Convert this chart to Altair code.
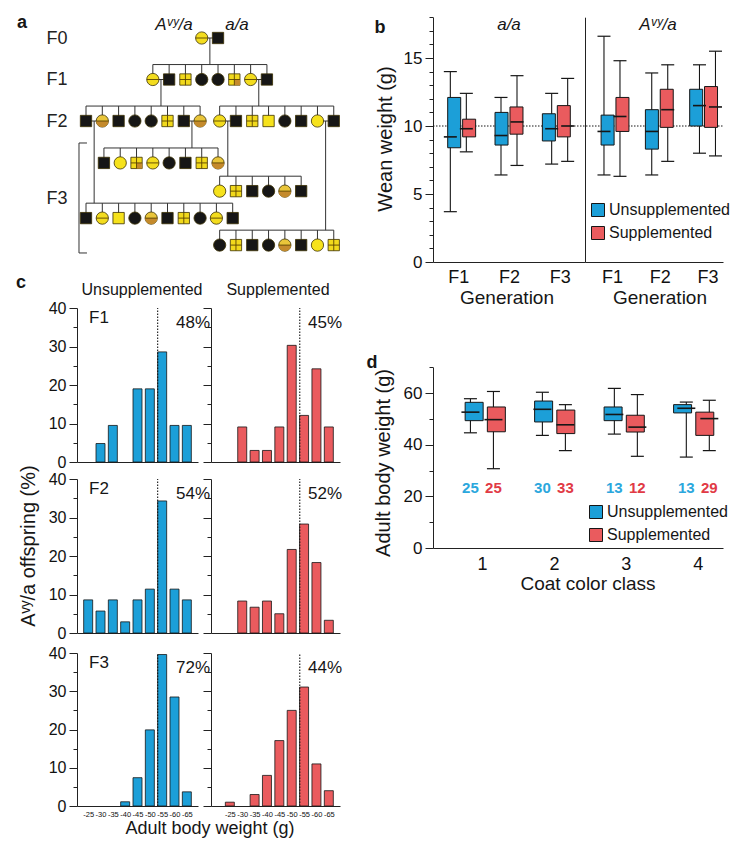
import json
import altair as alt
import pandas as pd

FONT = "Liberation Sans"
W, H = 725, 831

# ---------------- panel a : pedigree ----------------
# sibship: name, row, first slot, sexes, coat classes, parents (sibship, i, j)
SIBSHIPS = [
    ("F0", 0.00, 7.1, "FM", ["YL", "K"], None),
    ("F1", 1.00, 4.1, "FMMFFMFM", ["YL", "K", "YX", "K", "K", "YP", "YL", "K"], ("F0", 0, 1)),
    ("F2a", 2.00, 0.0, "MFMFFMMF", ["K", "HB", "K", "K", "K", "YX", "K", "HB"], ("F1", 0, 1)),
    ("F2b", 2.00, 8.2, "FMMMFMFM", ["YL", "K", "YX", "Y", "K", "K", "Y", "K"], ("F1", 6, 7)),
    ("F3a", 3.01, 1.1, "MFMFFMMF", ["K", "Y", "YP", "YL", "K", "K", "YX", "HB"], ("F2a", 6, 7)),
    ("F3b", 3.69, 8.2, "FMMFFM", ["Y", "YX", "K", "K", "HB", "K"], ("F2b", 0, 1)),
    ("F3c", 4.34, 0.0, "MFMFFMMFFM", ["K", "YL", "Y", "K", "HB", "K", "YX", "K", "YL", "K"], ("F2a", 0, 1)),
    ("F3d", 4.99, 8.2, "FMMFFMFM", ["K", "YX", "K", "K", "HB", "K", "Y", "YX"], ("F2b", 6, 7)),
]
BRACKET = {"x": -0.43, "x2": 0.06, "top": 2.53, "bottom": 5.18}
GEN_LABELS = ["F0", "F1", "F2", "F3"]
GEN_ROWS = [0, 1, 2, 3.86]
COATS = ["Y", "YL", "YX", "YP", "HB", "K"]
COAT_COLORS = ["#f6e21c", "#f3dc1e", "#f1d91c", "#f1d91c", "#e9c53a", "#161616"]

# ---------------- panel b : wean weight ----------------
TREAT = ["Unsupplemented", "Supplemented"]
GENS = ["F1", "F2", "F3"]
B_AA = dict(lo=[3.7, 8.1, 6.4, 7.1, 7.2, 7.4], q1=[8.4, 9.2, 8.6, 9.4, 8.9, 9.2],
            med=[9.2, 9.8, 9.3, 10.3, 9.8, 10.0], q3=[12.1, 10.5, 11.0, 11.4, 10.9, 11.5],
            hi=[14.0, 12.4, 12.1, 13.7, 12.4, 13.5])
B_AVY = dict(lo=[6.4, 6.3, 6.4, 7.4, 8.0, 7.8], q1=[8.6, 9.6, 8.3, 9.9, 10.0, 9.9],
             med=[9.6, 10.7, 9.6, 11.2, 11.5, 11.4], q3=[10.8, 12.1, 11.2, 12.7, 12.7, 12.9],
             hi=[16.6, 14.8, 13.9, 14.5, 14.5, 15.5])
B_REF = 10

# ---------------- panel c : histograms ----------------
BINS = ["-25", "-30", "-35", "-40", "-45", "-50", "-55", "-60", "-65"]
C_UNSUP = [
    [0, 4.8, 9.5, 0, 19.0, 19.0, 28.6, 9.5, 9.5],
    [8.6, 5.7, 8.6, 2.9, 8.6, 11.4, 34.3, 11.4, 8.6],
    [0, 0, 0, 1.1, 7.4, 19.9, 39.6, 28.5, 3.7],
]
C_SUP = [
    [0, 9.1, 3.0, 3.0, 9.1, 30.3, 12.1, 24.2, 9.1],
    [0, 8.3, 6.7, 8.3, 5.0, 21.7, 28.3, 18.3, 3.3],
    [1.0, 0, 3.0, 8.0, 17.1, 25.0, 31.1, 11.0, 4.0],
]
C_PCT_UNSUP = ["48%", "54%", "72%"]
C_PCT_SUP = ["45%", "52%", "44%"]
C_THRESH = 50

# ---------------- panel d : adult weight by coat class ----------------
CLASSES = [1, 2, 3, 4]
D_UNSUP = dict(lo=[44.6, 43.6, 44.1, 35.2], q1=[49.3, 48.8, 49.3, 52.3], med=[52.6, 53.7, 51.7, 54.1],
               q3=[56.4, 56.9, 54.6, 55.5], hi=[57.8, 60.3, 61.8, 56.5])
D_SUP = dict(lo=[30.7, 37.7, 35.5, 37.7], q1=[45.0, 44.3, 44.9, 43.6], med=[49.7, 47.7, 46.8, 50.1],
             q3=[54.6, 53.4, 51.4, 52.6], hi=[60.6, 55.5, 59.4, 57.2])
D_N_UNSUP = [25, 30, 13, 13]
D_N_SUP = [25, 33, 12, 29]

BLUE, RED = "#1c9fd8", "#ea5b5e"
BLUE_TXT, RED_TXT = "#2ba7dd", "#e13a45"
INK = "#161616"


def txt(s, x, y, size=16, **kw):
    kw.setdefault("color", INK)
    return alt.Chart(pd.DataFrame({"t": [s]})).mark_text(fontSize=size, font=FONT, **kw).encode(
        x=alt.value(x), y=alt.value(y), text="t:N")


def cond_tick(step, major, minor):
    return {"condition": {"test": f"datum.value % {step} === 0", "value": major}, "value": minor}


def show_every(step):
    return f"datum.value % {step} === 0 ? datum.label : ''"


def sc(domain, rng):
    return alt.Scale(domain=domain, range=rng, nice=False, zero=False)


def px_per_unit(s):
    return (s.range[1] - s.range[0]) / (s.domain[1] - s.domain[0])


# ---------- pedigree ----------
pos = {}
inds = []
for name, row, start, sexes, coats, parents in SIBSHIPS:
    for i, (s, c) in enumerate(zip(sexes, coats)):
        pos[(name, i)] = (start + i, row)
        inds.append({"x": start + i, "row": row, "sex": s, "coat": c})
ind = pd.DataFrame(inds)
segs = []
for name, row, start, sexes, coats, parents in SIBSHIPS:
    if parents is None:
        continue
    pn, i, j = parents
    (xa, ra), (xb, _) = pos[(pn, i)], pos[(pn, j)]
    mid = (xa + xb) / 2
    sib = row - 0.36
    kids = [start + k for k in range(len(sexes))]
    segs.append(dict(x=xa, x2=xb, y=ra, y2=ra))
    segs.append(dict(x=mid, x2=mid, y=ra, y2=sib))
    segs.append(dict(x=min(kids + [mid]), x2=max(kids + [mid]), y=sib, y2=sib))
    for xk in kids:
        segs.append(dict(x=xk, x2=xk, y=sib, y2=row))
segs.append(dict(x=BRACKET["x"], x2=BRACKET["x"], y=BRACKET["top"], y2=BRACKET["bottom"]))
segs.append(dict(x=BRACKET["x"], x2=BRACKET["x2"], y=BRACKET["top"], y2=BRACKET["top"]))
segs.append(dict(x=BRACKET["x"], x2=BRACKET["x2"], y=BRACKET["bottom"], y2=BRACKET["bottom"]))
seg = pd.DataFrame(segs)

XA = sc([0, 15], [78, 322.5])
YA = sc([0, 5], [30, 237.5])
gen_label_expr = f"{json.dumps(GEN_LABELS)}[indexof({json.dumps(GEN_ROWS)}, datum.value)]"
ped_yaxis = alt.Axis(orient="left", offset=-59, values=GEN_ROWS, labelExpr=gen_label_expr, domain=False,
                     ticks=False, labelFontSize=18, labelPadding=0, title=None, labelColor="#222")
SIZE = alt.Size("sex:N", scale=alt.Scale(domain=["F", "M"], range=[150, 128]), legend=None)
PX = alt.X("x:Q", scale=XA, axis=None)
PY = alt.Y("row:Q", scale=YA, axis=None)

ped_lines = alt.Chart(seg).mark_rule(color="#333", strokeWidth=1).encode(
    x=alt.X("x:Q", scale=XA, axis=None), x2="x2:Q",
    y=alt.Y("y:Q", scale=YA, axis=ped_yaxis), y2="y2:Q")
ped_base = alt.Chart(ind).mark_point(filled=True, opacity=1, stroke="#3b3000", strokeWidth=0.8).encode(
    x=PX, y=PY, size=SIZE,
    shape=alt.Shape("sex:N", scale=alt.Scale(domain=["F", "M"], range=["circle", "square"]), legend=None),
    fill=alt.Fill("coat:N", scale=alt.Scale(domain=COATS, range=COAT_COLORS), legend=None))
HALF = "M-1,0A1,1,0,0,0,1,0Z"
QUAD = "M0,0H1V1H0Z"
ped_half = alt.Chart(ind[ind.coat == "HB"]).mark_point(
    shape=HALF, filled=True, opacity=1, fill="#c48a2c", strokeWidth=0).encode(x=PX, y=PY, size=SIZE)
ped_quad = alt.Chart(ind[ind.coat == "YP"]).mark_point(
    shape=QUAD, filled=True, opacity=1, fill="#c48a2c", strokeWidth=0).encode(x=PX, y=PY, size=SIZE)
ped_line = alt.Chart(ind[ind.coat.isin(["YL", "HB"])]).mark_point(
    shape="M-1,0H1", filled=False, opacity=1, stroke="#5a4300", strokeWidth=0.9).encode(x=PX, y=PY, size=SIZE)
ped_cross = alt.Chart(ind[ind.coat.isin(["YX", "YP"])]).mark_point(
    shape="M-1,0H1M0,-1V1", filled=False, opacity=1, stroke="#5a4300", strokeWidth=0.9).encode(x=PX, y=PY, size=SIZE)
ped = [ped_lines, ped_base, ped_half, ped_quad, ped_line, ped_cross]


# ---------- box panels ----------
def box_df(stats_list, xs):
    rows = []
    for t, stats in zip(TREAT, stats_list):
        for k, xv in enumerate(xs):
            rows.append(dict(x=xv, treat=t, **{key: stats[key][k] for key in stats}))
    return pd.DataFrame(rows)


def split_b(d):
    u = {k: v[0::2] for k, v in d.items()}
    s = {k: v[1::2] for k, v in d.items()}
    return [u, s]


def box_layers(df, xs, ys, off_px, bw, cw, xaxis, yaxis, legend):
    k = px_per_unit(xs)
    off, hb, hc = off_px / k, bw / 2 / k, cw / 2 / k
    base = alt.Chart(df).transform_calculate(
        pos=f"datum.x + (datum.treat === '{TREAT[0]}' ? {-off} : {off})"
    ).transform_calculate(
        bl=f"datum.pos - {hb}", br=f"datum.pos + {hb}", cl=f"datum.pos - {hc}", cr=f"datum.pos + {hc}")
    Xn = alt.X("pos:Q", scale=xs, axis=None)

    def Yn(f):
        return alt.Y(f"{f}:Q", scale=ys, axis=None)

    whisk = base.mark_rule(color=INK, strokeWidth=1.1).encode(x=Xn, y=Yn("lo"), y2="hi:Q")
    caps = [base.mark_rule(color=INK, strokeWidth=1.2).encode(
        x=alt.X("cl:Q", scale=xs, axis=None), x2="cr:Q", y=Yn(f)) for f in ("hi", "lo")]
    box = base.mark_bar(size=bw, stroke=INK, strokeWidth=1, opacity=1).encode(
        x=Xn, y=Yn("q1"), y2="q3:Q",
        color=alt.Color("treat:N", scale=alt.Scale(domain=TREAT, range=[BLUE, RED]), legend=legend))
    med = base.mark_rule(color=INK, strokeWidth=1.6).encode(
        x=alt.X("bl:Q", scale=xs, axis=None), x2="br:Q", y=Yn("med"))
    # axes carried by an invisible layer of the same scales
    axes = base.mark_point(opacity=0).encode(x=alt.X("pos:Q", scale=xs, axis=xaxis),
                                              y=alt.Y("med:Q", scale=ys, axis=yaxis))
    return [axes, whisk] + caps + [box, med]


def legend_at(x, y):
    return alt.Legend(orient="none", legendX=x, legendY=y, title=None, symbolType="square", symbolSize=169,
                      symbolStrokeColor=INK, symbolStrokeWidth=1, symbolOpacity=1, labelFontSize=16,
                      labelFont=FONT, labelColor=INK, labelOffset=3, rowPadding=5)


YB = sc([0, 18], [254, 9.2])
XB_L = sc([0.5, 3.5], [425, 577])
XB_R = sc([0.435, 3.325], [577, 715])
gen_expr = f"{json.dumps(GENS)}[datum.value - 1]"


def xaxis_b():
    return alt.Axis(orient="bottom", offset=254 - H, values=[1, 2, 3], labelExpr=gen_expr, ticks=False,
                    labelFontSize=18, labelPadding=6, title=None, labelFlush=False)


yaxis_bl = alt.Axis(orient="left", offset=-425, values=list(range(0, 19)), labelExpr=show_every(5),
                    tickSize=cond_tick(5, 8, 4), labelFontSize=17, labelPadding=3, title=None, labelFlush=False)
yaxis_br = alt.Axis(orient="left", offset=-577, labels=False, ticks=False, title=None)

b_ref = alt.Chart(pd.DataFrame({"r": [B_REF]})).mark_rule(color=INK, strokeWidth=1, strokeDash=[1.5, 1.5]).encode(
    y=alt.Y("r:Q", scale=YB, axis=None), x=alt.value(425), x2=alt.value(715))
b_left = [b_ref] + box_layers(box_df(split_b(B_AA), [1, 2, 3]), XB_L, YB, 8, 13, 13,
                              xaxis_b(), yaxis_bl, None)
b_right = box_layers(box_df(split_b(B_AVY), [1, 2, 3]), XB_R, YB, 8, 13, 13,
                     xaxis_b(), yaxis_br, legend_at(582, 194))

# ---------- panel d ----------
XD = sc([0.32, 4.35], [425, 715])
YD = sc([0, 70], [540, 359.2])
xaxis_d = alt.Axis(orient="bottom", offset=540 - H, values=CLASSES, ticks=False, labelFontSize=18,
                   labelPadding=7, title=None, labelFlush=False)
yaxis_d = alt.Axis(orient="left", offset=-425, values=list(range(0, 71, 10)), labelExpr=show_every(20),
                   tickSize=cond_tick(20, 8, 4), labelFontSize=17, labelPadding=3, title=None, labelFlush=False)
d_df = box_df([D_UNSUP, D_SUP], CLASSES)
d_counts = pd.DataFrame({"x": CLASSES * 2, "treat": [TREAT[0]] * 4 + [TREAT[1]] * 4,
                         "n": D_N_UNSUP + D_N_SUP})
d_off = 11.5 / px_per_unit(XD)
d_count_layer = alt.Chart(d_counts).transform_calculate(
    pos=f"datum.x + (datum.treat === '{TREAT[0]}' ? {-d_off} : {d_off})").mark_text(
    font=FONT, fontSize=15, fontWeight="bold").encode(
    x=alt.X("pos:Q", scale=XD, axis=None), y=alt.value(480), text="n:N",
    fill=alt.Fill("treat:N", scale=alt.Scale(domain=TREAT, range=[BLUE_TXT, RED_TXT]), legend=None))
d_panel = box_layers(d_df, XD, YD, 11.5, 18, 13, xaxis_d, yaxis_d, legend_at(580, 496)) + [d_count_layer]

# ---------- panel c ----------
CENTERS = [int(b[1:]) - 2.5 for b in BINS]
XC = [sc([20, 65], [69, 190]), sc([16.9, 65], [203, 332])]
XC_LEFT = [69, 203]
C_TOPS = [300, 471, 645]
C_BOTS = [454, 625, 798]
bin_expr = "'-' + (datum.value + 2.5)"


def hist(vals, col, ci, ri):
    xs = XC[ci]
    ys = sc([0, 40], [C_BOTS[ri], C_TOPS[ri]])
    last = ri == 2
    xaxis = alt.Axis(orient="bottom", offset=C_BOTS[ri] - H, values=CENTERS, labelExpr=bin_expr, ticks=False,
                     labels=last, labelFontSize=7.5, labelPadding=4, labelOverlap=False, labelFlush=False,
                     labelBound=False, title=None)
    yaxis = alt.Axis(orient="left", offset=-XC_LEFT[ci], values=list(range(0, 41, 5)), labelExpr=show_every(10),
                     tickSize=cond_tick(10, 8, 4), labels=(ci == 0), labelFontSize=16, labelPadding=3,
                     title=None, labelFlush=False)
    df = pd.DataFrame({"bin": BINS, "c": CENTERS, "v": vals})
    df = df[df.v > 0]
    bars = alt.Chart(df).mark_bar(size=9, color=col, stroke=INK, strokeWidth=0.8, opacity=1).encode(
        x=alt.X("c:Q", scale=xs, axis=xaxis), y=alt.Y("v:Q", scale=ys, axis=yaxis))
    dot = alt.Chart(pd.DataFrame({"t": [C_THRESH], "a": [0], "b": [40]})).mark_rule(
        color=INK, strokeWidth=1.1, strokeDash=[1.5, 1.5]).encode(
        x=alt.X("t:Q", scale=xs, axis=None), y=alt.Y("a:Q", scale=ys, axis=None), y2="b:Q")
    return [bars, dot]


c_panels = []
for ri in range(3):
    c_panels += hist(C_UNSUP[ri], BLUE, 0, ri)
    c_panels += hist(C_SUP[ri], RED, 1, ri)

# ---------- annotations ----------
AVY = "A\u1d5b\u02b8/a"
ann = [
    txt("a", 14, 20, 18, fontWeight="bold", baseline="alphabetic"),
    txt("b", 372, 25, 18, fontWeight="bold", baseline="alphabetic"),
    txt("c", 13, 280, 18, fontWeight="bold", baseline="alphabetic"),
    txt("d", 364, 360, 18, fontWeight="bold", baseline="alphabetic"),
    txt(AVY, 166, 22, 17, fontStyle="italic", baseline="alphabetic"),
    txt("a/a", 229, 22, 17, fontStyle="italic", baseline="alphabetic"),
    txt("a/a", 501, 22, 17, fontStyle="italic", baseline="alphabetic"),
    txt(AVY, 650, 22, 17, fontStyle="italic", baseline="alphabetic"),
    txt("Wean weight (g)", 378, 131, 20, angle=270),
    txt("Generation", 499, 290, 19),
    txt("Generation", 652, 290, 19),
    txt("Unsupplemented", 134, 287, 16, baseline="alphabetic"),
    txt("Supplemented", 270, 287, 16, baseline="alphabetic"),
    txt(AVY + " offspring (%)", 21, 538, 20, angle=270),
    txt("Adult body weight (g)", 202, 821, 18),
    txt("Adult body weight (g)", 376, 455, 20, angle=270),
    txt("Coat color class", 580, 576, 19),
]
for ri in range(3):
    ann.append(txt(GENS[ri], 81, C_TOPS[ri] + 2, 17, align="left", baseline="top"))
    ann.append(txt(C_PCT_UNSUP[ri], 202, C_TOPS[ri] + 7, 17, align="right", baseline="top"))
    ann.append(txt(C_PCT_SUP[ri], 334, C_TOPS[ri] + 7, 17, align="right", baseline="top"))

chart = alt.layer(*ped, *b_left, *b_right, *c_panels, *d_panel, *ann).resolve_scale(
    x="independent", y="independent", color="independent", fill="independent",
    shape="independent", size="independent"
).properties(
    width=W, height=H, autosize=alt.AutoSizeParams(type="none"), padding=0
).configure(font=FONT).configure_view(stroke=None).configure_axis(
    grid=False, domainColor="#222", tickColor="#222", labelColor="#111", labelFont=FONT,
    domainWidth=1, tickWidth=1)

chart.save("out.html", embed_options={"renderer": "svg", "actions": False})
